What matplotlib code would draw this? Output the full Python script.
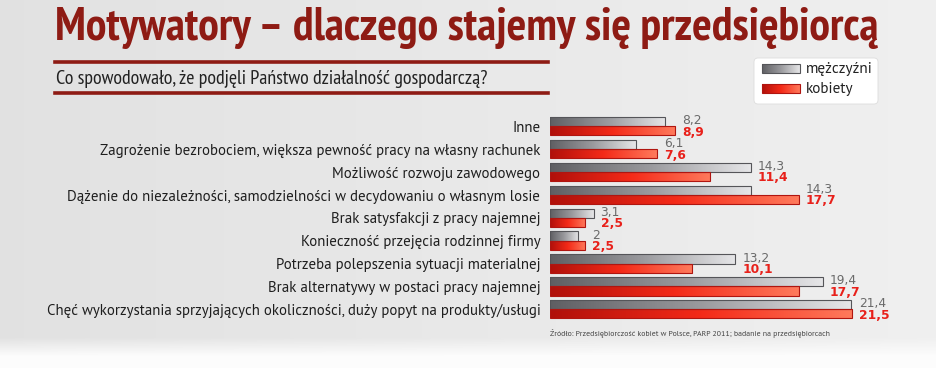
import numpy as np
import matplotlib
matplotlib.use("Agg")
import matplotlib.pyplot as plt
from matplotlib.colors import LinearSegmentedColormap
from matplotlib.patches import FancyBboxPatch, Rectangle

categories = [
    "Inne",
    "Zagrożenie bezrobociem, większa pewność pracy na własny rachunek",
    "Możliwość rozwoju zawodowego",
    "Dążenie do niezależności, samodzielności w decydowaniu o własnym losie",
    "Brak satysfakcji z pracy najemnej",
    "Konieczność przejęcia rodzinnej firmy",
    "Potrzeba polepszenia sytuacji materialnej",
    "Brak alternatywy w postaci pracy najemnej",
    "Chęć wykorzystania sprzyjających okoliczności, duży popyt na produkty/usługi",
]
men = [8.2, 6.1, 14.3, 14.3, 3.1, 2, 13.2, 19.4, 21.4]
women = [8.9, 7.6, 11.4, 17.7, 2.5, 2.5, 10.1, 17.7, 21.5]
series_names = ["mężczyźni", "kobiety"]

TITLE = "Motywatory – dlaczego stajemy się przedsiębiorcą"
SUBTITLE = "Co spowodowało, że podjęli Państwo działalność gospodarczą?"
SOURCE = "Źródło: Przedsiębiorczość kobiet w Polsce, PARP 2011; badanie na przedsiębiorcach"

DARK_RED = "#8e1b14"
GRAY_CMAP = LinearSegmentedColormap.from_list("g", ["#5f5f63", "#9a9a9e", "#e6e6e8"])
RED_CMAP = LinearSegmentedColormap.from_list("r", ["#b0100a", "#f42a18", "#ff7a5c"])

NARROW = ["PT Sans Narrow", "Open Sans Condensed", "Roboto", "DejaVu Sans"]
SANS = ["PT Sans", "Lato", "DejaVu Sans"]

W, H = 936, 368


def fx(px):
    return px / W


def fy(py):
    return 1 - py / H


def fit_width(fig, txt, width_px):
    # scale the font size so the text spans the given width
    r = fig.canvas.get_renderer()
    w = txt.get_window_extent(renderer=r).width
    txt.set_fontsize(txt.get_fontsize() * width_px / w)


def gradient_rect(ax, x0, x1, y0, y1, cmap, edge):
    rect = Rectangle((x0, y0), x1 - x0, y1 - y0, facecolor="none",
                     edgecolor=edge, linewidth=0.8, zorder=3)
    ax.add_patch(rect)
    grad = np.linspace(0, 1, 256).reshape(1, -1)
    im = ax.imshow(grad, cmap=cmap, aspect="auto", extent=(x0, x1, y0, y1),
                   zorder=2, interpolation="bicubic")
    im.set_clip_path(rect)


def fmt(v):
    return f"{v:g}".replace(".", ",")


fig = plt.figure(figsize=(W / 100, H / 100), dpi=100)

# background paper
bg = fig.add_axes([0, 0, 1, 1], zorder=-10)
bg.set_axis_off()
yy = np.linspace(0, 1, 200)
xx = np.linspace(0, 1, 200)
shade = 0.885 + 0.055 * xx[None, :] + 0.0 * yy[:, None]
fade = np.clip((yy[:, None] - 0.92) / 0.05, 0, 1)
shade = shade * (1 - fade) + 0.99 * fade
bg.imshow(np.dstack([shade] * 3), extent=(0, 1, 0, 1), aspect="auto", origin="upper")
bg.set_xlim(0, 1)
bg.set_ylim(0, 1)

# title, subtitle and red rules
title = fig.text(fx(55), fy(40), TITLE, fontsize=34, fontweight="bold", family=NARROW,
                 color=DARK_RED, va="baseline", ha="left")
fit_width(fig, title, 825)
fig.add_artist(plt.Line2D([fx(55), fx(548)], [fy(62), fy(62)], color=DARK_RED, lw=2.6))
fig.add_artist(plt.Line2D([fx(55), fx(548)], [fy(93), fy(93)], color=DARK_RED, lw=2.6))
sub = fig.text(fx(56), fy(84), SUBTITLE, fontsize=15, family=NARROW, color="#222222",
               va="baseline", ha="left")
fit_width(fig, sub, 434)

# main bar axes
pitch = 22.875
ax = fig.add_axes([fx(550), fy(326), fx(380), 216 / H])
ax.set_facecolor("none")
h = 0.40
for i, (m, w) in enumerate(zip(men, women)):
    gradient_rect(ax, 0, m, i - 0.21 - h / 2, i - 0.21 + h / 2, GRAY_CMAP, "#555559")
    gradient_rect(ax, 0, w, i + 0.19 - h / 2, i + 0.19 + h / 2, RED_CMAP, "#b01510")
    xt = max(m, w) + 0.5
    ax.text(xt, i - 0.25, fmt(m), color="#6a6a6a", fontsize=8.8, family="DejaVu Sans",
            va="center", ha="left")
    ax.text(xt, i + 0.25, fmt(w), color="#e8201a", fontsize=8.8, family="DejaVu Sans",
            fontweight="bold", va="center", ha="left")
ax.set_xlim(0, 380 / 14.05)
ax.set_ylim(8 + (326 - 309.5) / pitch, -(126.5 - 110) / pitch)
ax.set_yticks(range(len(categories)))
ax.set_yticklabels(categories, fontsize=11, family=SANS, color="#1e1e1e")
ax.tick_params(axis="y", length=0, pad=7)
ax.set_xticks([])
for s in ax.spines.values():
    s.set_visible(False)
r = fig.canvas.get_renderer()
longest = max(t.get_window_extent(renderer=r).width for t in ax.get_yticklabels())
for t in ax.get_yticklabels():
    t.set_fontsize(11 * 492 / longest)

# legend box
lax = fig.add_axes([fx(752), fy(105), fx(128), 48 / H])
lax.set_axis_off()
lax.add_patch(FancyBboxPatch((754, 58), 124, 46, boxstyle="round,pad=0,rounding_size=4",
                             facecolor="white", edgecolor="#dddddd", lw=0.6))
gradient_rect(lax, 762, 800, 64, 73, GRAY_CMAP, "#555559")
gradient_rect(lax, 762, 800, 84, 93, RED_CMAP, "#b01510")
lax.set_xlim(752, 880)
lax.set_ylim(105, 57)
lax.text(806, 69, series_names[0], fontsize=11, family=SANS, color="#222222", va="center")
lax.text(806, 89, series_names[1], fontsize=11, family=SANS, color="#222222", va="center")

src = fig.text(fx(550), fy(333), SOURCE, fontsize=6.5, family=SANS, color="#444444",
               va="center", ha="left")
fit_width(fig, src, 283)

fig.savefig("out.png", dpi=100)
